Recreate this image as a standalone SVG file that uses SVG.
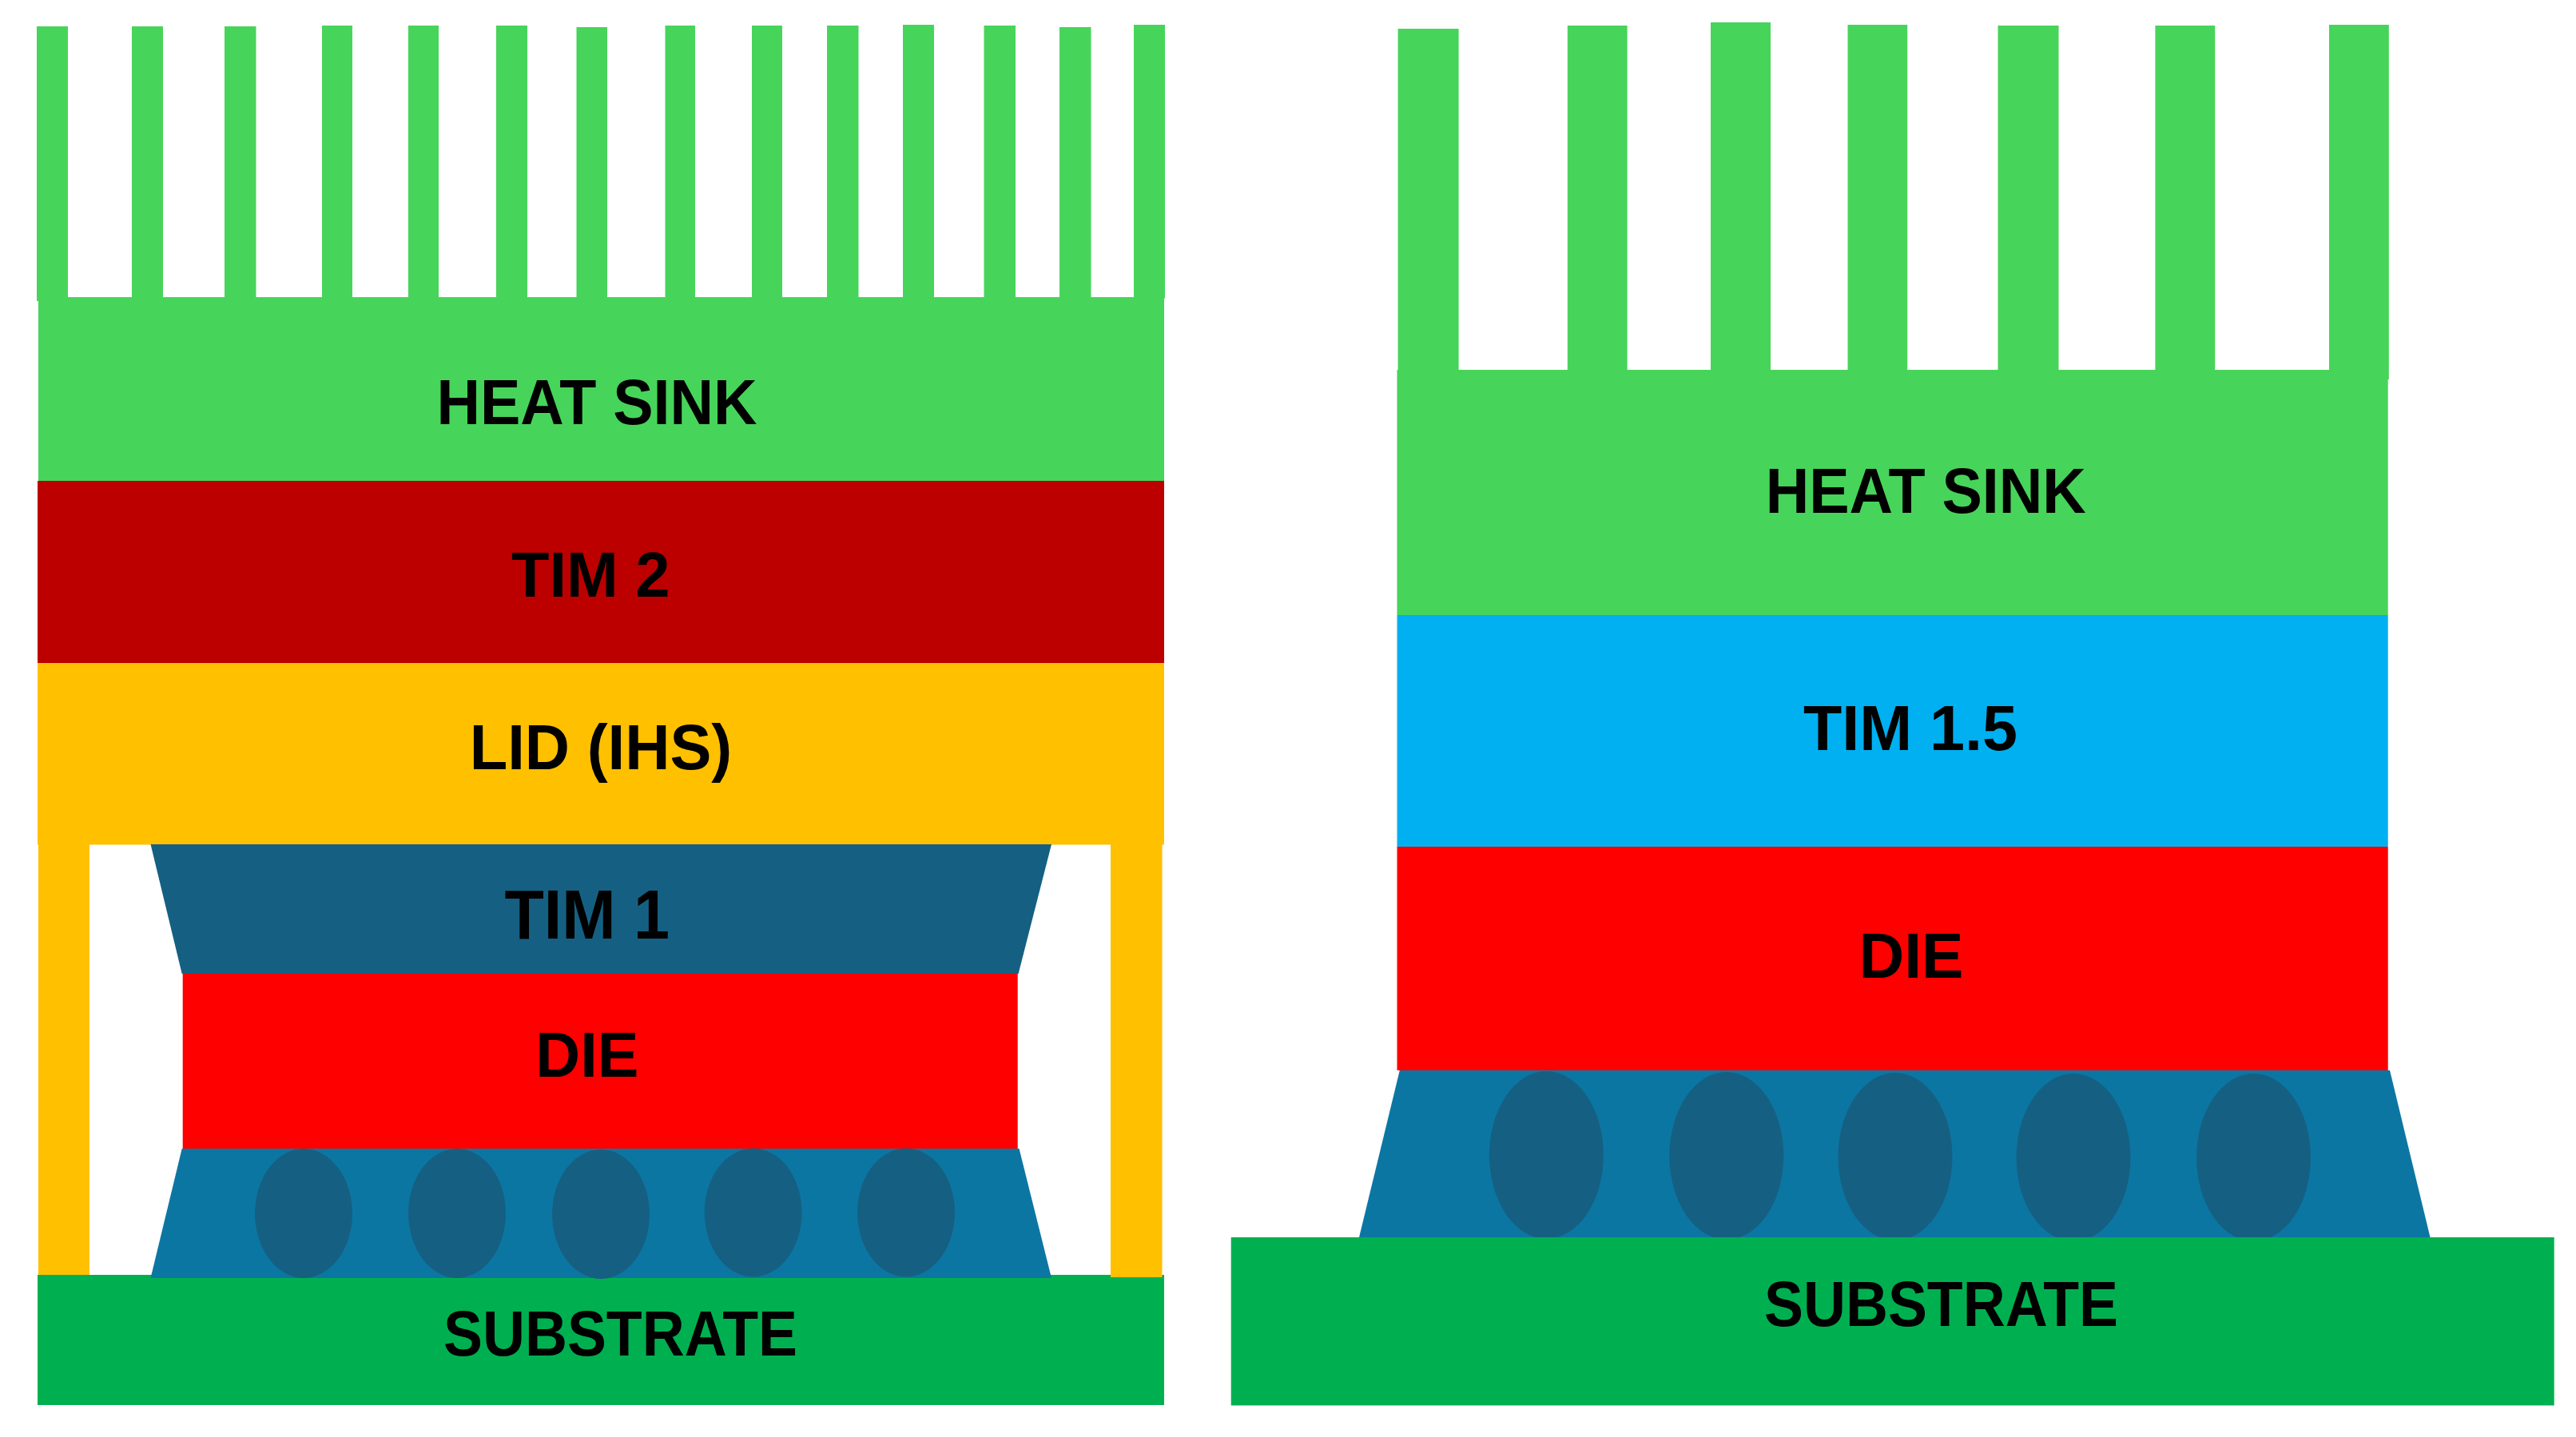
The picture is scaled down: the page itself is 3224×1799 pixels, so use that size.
<svg xmlns="http://www.w3.org/2000/svg" width="3224" height="1799" viewBox="0 0 3224 1799">
<style>
.hs{fill:#47D45A}.tim2{fill:#BC0000}.lid{fill:#FFC000}.tim1{fill:#156082}.die{fill:#FF0000}.uf{fill:#0C76A3}.ball{fill:#156082}.sub{fill:#00B050}.tim15{fill:#00B0F0}
text{font-family:"Liberation Sans",Arial,sans-serif;font-weight:700;fill:#000;font-size:80px}
</style>
<rect width="3224" height="1799" fill="#fff"/>
<g id="left-stack">
<g id="left-heat-sink">
<rect class="hs" x="48" y="372" width="1409" height="231"/>
<rect class="hs" x="46" y="33" width="39" height="344"/>
<rect class="hs" x="165" y="33" width="39" height="340"/>
<rect class="hs" x="281" y="33" width="39.500" height="340"/>
<rect class="hs" x="403" y="32" width="38" height="341"/>
<rect class="hs" x="511" y="32" width="38" height="341"/>
<rect class="hs" x="621" y="32" width="39" height="341"/>
<rect class="hs" x="721.500" y="34" width="38.500" height="339"/>
<rect class="hs" x="832.500" y="32" width="37.500" height="341"/>
<rect class="hs" x="941" y="32" width="38" height="341"/>
<rect class="hs" x="1035" y="32" width="39.500" height="341"/>
<rect class="hs" x="1130" y="31" width="39" height="342"/>
<rect class="hs" x="1231.500" y="32" width="39.500" height="341"/>
<rect class="hs" x="1326" y="34" width="39.500" height="339"/>
<rect class="hs" x="1419" y="31" width="39" height="342.500"/>
<text x="546.500" y="531" textLength="401" lengthAdjust="spacingAndGlyphs">HEAT SINK</text>
</g>
<g id="left-tim2">
<rect class="tim2" x="47" y="602" width="1410" height="229"/>
<text x="640" y="747" textLength="198.500" lengthAdjust="spacingAndGlyphs">TIM 2</text>
</g>
<g id="left-lid">
<rect class="lid" x="47" y="830" width="1410" height="227.500"/>
<rect class="lid" x="48" y="1057" width="64" height="545"/>
<text x="587.700" y="963" textLength="328.500" lengthAdjust="spacingAndGlyphs">LID (IHS)</text>
</g>
<g id="left-tim1">
<path class="tim1" d="M188.500 1057H1316L1274.600 1219H227.700Z"/>
<text x="631.500" y="1175" textLength="206.500" lengthAdjust="spacingAndGlyphs" style="font-size:87px">TIM 1</text>
</g>
<g id="left-die">
<rect class="die" x="228.700" y="1219" width="1045" height="219"/>
<text x="670.300" y="1348" textLength="129" lengthAdjust="spacingAndGlyphs">DIE</text>
</g>
<g id="left-substrate">
<rect class="sub" x="47" y="1596" width="1410" height="163"/>
<text x="555" y="1697" textLength="443" lengthAdjust="spacingAndGlyphs">SUBSTRATE</text>
</g>
<g id="left-underfill">
<path class="uf" d="M227.700 1438H1275.500L1316 1600H188.500Z"/>
<ellipse class="ball" cx="380" cy="1519" rx="61" ry="81"/>
<ellipse class="ball" cx="572" cy="1519" rx="61" ry="81"/>
<ellipse class="ball" cx="752" cy="1520" rx="61" ry="81"/>
<ellipse class="ball" cx="942.600" cy="1518" rx="61" ry="80.500"/>
<ellipse class="ball" cx="1134" cy="1518" rx="61" ry="80.500"/>
</g>
<rect id="left-lid-leg" class="lid" x="1390" y="1057" width="64.500" height="542"/>
</g>
<g id="right-stack">
<g id="right-heat-sink">
<rect class="hs" x="1748.500" y="463" width="1240.200" height="307"/>
<rect class="hs" x="1749.600" y="36" width="76" height="430"/>
<rect class="hs" x="1961.800" y="32" width="74.800" height="434"/>
<rect class="hs" x="2141" y="28" width="75" height="438"/>
<rect class="hs" x="2312.500" y="31" width="74.700" height="435"/>
<rect class="hs" x="2500.500" y="32" width="76" height="434"/>
<rect class="hs" x="2697.400" y="32" width="74.800" height="434"/>
<rect class="hs" x="2915" y="31" width="74.800" height="444"/>
<text x="2209.800" y="642" textLength="401" lengthAdjust="spacingAndGlyphs">HEAT SINK</text>
</g>
<g id="right-tim15">
<rect class="tim15" x="1748.500" y="770" width="1240.200" height="290"/>
<text x="2257" y="939" textLength="268" lengthAdjust="spacingAndGlyphs">TIM 1.5</text>
</g>
<g id="right-die">
<rect class="die" x="1748.500" y="1060" width="1240.200" height="280"/>
<text x="2326.500" y="1224" textLength="131" lengthAdjust="spacingAndGlyphs">DIE</text>
</g>
<g id="right-underfill">
<path class="uf" d="M1751.800 1340H2991L3041.500 1549H1701Z"/>
<ellipse class="ball" cx="1935.400" cy="1446" rx="71.500" ry="105"/>
<ellipse class="ball" cx="2160.800" cy="1447" rx="71.500" ry="105"/>
<ellipse class="ball" cx="2372" cy="1448" rx="71.500" ry="105"/>
<ellipse class="ball" cx="2595" cy="1449" rx="71.500" ry="105"/>
<ellipse class="ball" cx="2820.500" cy="1449" rx="71.500" ry="105"/>
</g>
<g id="right-substrate">
<rect class="sub" x="1540.700" y="1549" width="1656" height="210.500"/>
<text x="2208" y="1660" textLength="443" lengthAdjust="spacingAndGlyphs">SUBSTRATE</text>
</g>
</g>
<g id="connectors"/>
</svg>
